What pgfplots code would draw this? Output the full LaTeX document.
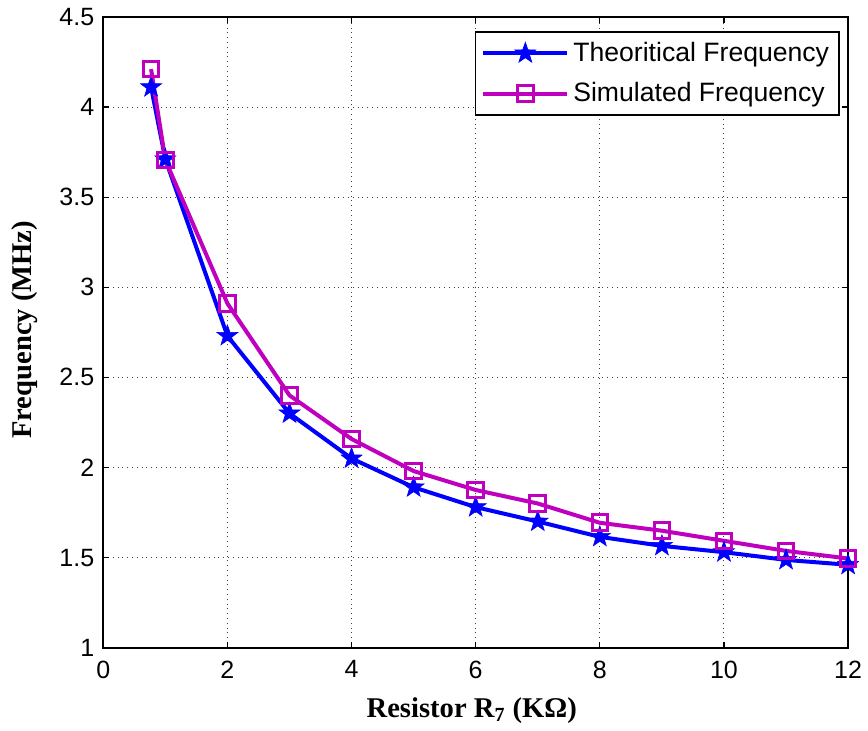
\documentclass[border=0pt]{standalone}
\usepackage{fontspec}
\setmainfont{Liberation Sans}
\newfontfamily\timesfont{Liberation Serif}
\usepackage{pgfplots}
\pgfplotsset{compat=1.18}
\pgfdeclareplotmark{pent}{%
  \pgfpathmoveto{\pgfpointpolar{90}{\pgfplotmarksize}}%
  \pgfpathlineto{\pgfpointpolar{126}{0.40\pgfplotmarksize}}%
  \pgfpathlineto{\pgfpointpolar{162}{\pgfplotmarksize}}%
  \pgfpathlineto{\pgfpointpolar{198}{0.40\pgfplotmarksize}}%
  \pgfpathlineto{\pgfpointpolar{234}{\pgfplotmarksize}}%
  \pgfpathlineto{\pgfpointpolar{270}{0.40\pgfplotmarksize}}%
  \pgfpathlineto{\pgfpointpolar{306}{\pgfplotmarksize}}%
  \pgfpathlineto{\pgfpointpolar{342}{0.40\pgfplotmarksize}}%
  \pgfpathlineto{\pgfpointpolar{18}{\pgfplotmarksize}}%
  \pgfpathlineto{\pgfpointpolar{54}{0.40\pgfplotmarksize}}%
  \pgfpathclose
  \pgfusepathqfillstroke}
\definecolor{mmag}{rgb}{0.75,0,0.75}
\begin{document}
\begin{tikzpicture}
\begin{axis}[
  scale only axis, width=372.4pt, height=315.4pt,
  xmin=0, xmax=12, ymin=1, ymax=4.5,
  xtick={0,2,4,6,8,10,12},
  ytick={1,1.5,2,2.5,3,3.5,4,4.5},
  tick align=inside, major tick length=3pt,
  grid=major, grid style={dotted, black!75, line width=0.5pt},
  axis line style={line width=1pt},
  tick style={black, line width=0.6pt},
  ticklabel style={font=\fontsize{12.5}{14}\selectfont},
  /pgf/number format/assume math mode=true,
  yticklabel style={/pgf/number format/fixed, xshift=-1pt},
  xticklabel style={yshift=-3pt},
  xlabel={\timesfont\bfseries Resistor R\textsubscript{7} (KΩ)},
  ylabel={\timesfont\bfseries Frequency (MHz)},
  label style={font=\fontsize{14.3}{16}\selectfont},
  xlabel style={at={(axis description cs:0.4947,-0.1104)}, anchor=base},
  ylabel style={at={(axis description cs:-0.097,0.504)}, anchor=base},
  legend style={at={(0.989,0.977)}, anchor=north east,
    font=\fontsize{13.3}{16}\selectfont, draw=black, line width=0.8pt,
    inner xsep=3pt, inner ysep=3pt, row sep=5pt},
  legend cell align=left,
  legend image code/.code={%
    \draw[mark repeat=2, mark phase=2] plot coordinates {(0pt,0pt) (21pt,0pt) (42pt,0pt)};},
]
\addplot[color=blue, line width=2pt, mark=pent, mark size=5.5pt,
  mark options={fill=blue, line width=0.3pt}]
  coordinates {(0.77,4.11) (1,3.71) (2,2.73) (3,2.30) (4,2.05) (5,1.89) (6,1.78)
    (7,1.70) (8,1.615) (9,1.565) (10,1.53) (11,1.487) (12,1.46)};
\addlegendentry{Theoritical Frequency}
\addplot[color=mmag, line width=2pt, mark=square, mark size=3.9pt,
  mark options={fill=none, line width=1.5pt}]
  coordinates {(0.77,4.21) (1,3.705) (2,2.91) (3,2.40) (4,2.158) (5,1.98) (6,1.875)
    (7,1.80) (8,1.693) (9,1.649) (10,1.593) (11,1.537) (12,1.495)};
\addlegendentry{Simulated Frequency}
\end{axis}
\pgfresetboundingbox
\path[use as bounding box] (current axis.south west) ++(-51.65pt,-41.65pt) rectangle ++(434pt,365.5pt);
\end{tikzpicture}
\end{document}
